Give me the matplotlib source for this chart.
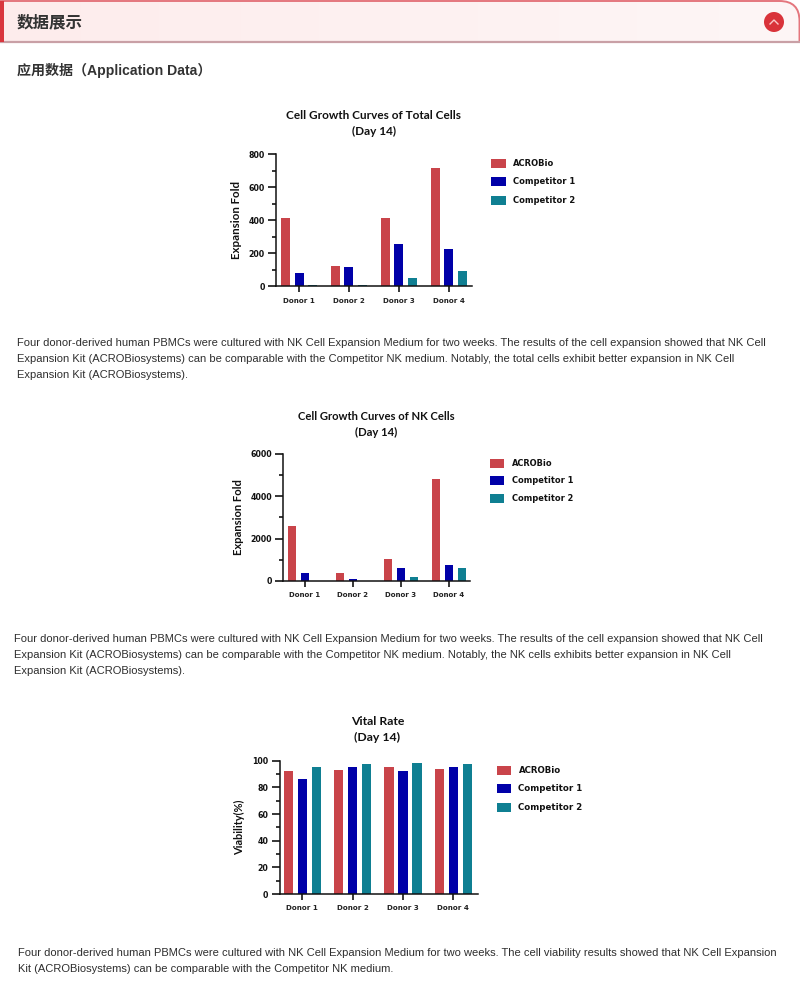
import matplotlib
matplotlib.use("Agg")
import numpy as np
import matplotlib.pyplot as plt
from matplotlib.colors import LinearSegmentedColormap
from matplotlib.patches import FancyBboxPatch, Rectangle, Circle

W, H = 800, 1005

donors = ["Donor 1", "Donor 2", "Donor 3", "Donor 4"]
series_names = ["ACROBio", "Competitor 1", "Competitor 2"]
colors = ["#c9444a", "#0000a8", "#0f7f92"]

total_acro = [412, 127, 412, 715]
total_comp1 = [82, 116, 260, 227]
total_comp2 = [8, 8, 52, 92]

nk_acro = [2600, 400, 1020, 4830]
nk_comp1 = [400, 90, 590, 760]
nk_comp2 = [0, 0, 190, 590]

vital_acro = [92.5, 93, 95, 93.5]
vital_comp1 = [86, 95.5, 92, 95]
vital_comp2 = [95.5, 97.5, 98, 97.5]

para1 = ["Four donor-derived human PBMCs were cultured with NK Cell Expansion Medium for two weeks. The results of the cell expansion showed that NK Cell",
         "Expansion Kit (ACROBiosystems) can be comparable with the Competitor NK medium. Notably, the total cells exhibit better expansion in NK Cell",
         "Expansion Kit (ACROBiosystems)."]
para2 = ["Four donor-derived human PBMCs were cultured with NK Cell Expansion Medium for two weeks. The results of the cell expansion showed that NK Cell",
         "Expansion Kit (ACROBiosystems) can be comparable with the Competitor NK medium. Notably, the NK cells exhibits better expansion in NK Cell",
         "Expansion Kit (ACROBiosystems)."]
para3 = ["Four donor-derived human PBMCs were cultured with NK Cell Expansion Medium for two weeks. The cell viability results showed that NK Cell Expansion",
         "Kit (ACROBiosystems) can be comparable with the Competitor NK medium."]

title_font = ["Lato", "DejaVu Sans"]
tick_font = ["DejaVu Sans"]
body_font = ["Liberation Sans", "DejaVu Sans"]
head_font = ["Liberation Sans", "Noto Sans CJK SC"]
cjk_font = ["Noto Sans CJK SC", "DejaVu Sans"]

fig = plt.figure(figsize=(W / 100, H / 100), dpi=100, facecolor="white")

# page layer in pixel coordinates
page = fig.add_axes([0, 0, 1, 1])
page.set_xlim(0, W)
page.set_ylim(H, 0)
page.axis("off")


def px(size):
    return size * 0.72


def bar_chart(x0, x1, y_top, y_bot, first_c, step, bar_w, offset, ymax, major, minor,
              values, title_x, title_y, title_size, ylabel, ylabel_x, ylabel_size,
              legend_x, legend_y, legend_step, legend_size, tick_size):
    ax = fig.add_axes([x0 / W, 1 - y_bot / H, (x1 - x0) / W, (y_bot - y_top) / H])
    ax.patch.set_alpha(0)
    ax.set_xlim((x0 - first_c) / step, (x1 - first_c) / step)
    ax.set_ylim(0, ymax)
    pos = np.arange(len(donors))
    for i, vals in enumerate(values):
        ax.bar(pos + (i - 1) * offset / step, vals, bar_w / step, color=colors[i], zorder=2)
    for s in ["top", "right"]:
        ax.spines[s].set_visible(False)
    for s in ["left", "bottom"]:
        ax.spines[s].set_linewidth(1.1)
        ax.spines[s].set_color("#111111")
    ax.set_xticks(pos)
    ax.set_xticklabels(donors, fontsize=px(tick_size), fontweight="bold", family=tick_font, color="#222222")
    ax.set_yticks(np.arange(0, ymax + 1, major))
    ax.set_yticks(np.arange(0, ymax + 1, minor), minor=True)
    ax.tick_params(axis="x", length=4, width=1.1, pad=4)
    ax.tick_params(axis="y", which="major", length=6, width=1.1, pad=2, labelsize=px(7.9))
    ax.tick_params(axis="y", which="minor", length=3, width=1.1)
    for t in ax.get_yticklabels():
        t.set_fontweight("bold")
        t.set_family(tick_font)
        t.set_color("#111111")
    page.text(ylabel_x, (y_top + y_bot) / 2, ylabel, rotation=90, ha="center", va="center",
              fontsize=px(ylabel_size), fontweight="bold", family=title_font, color="#111111")
    for i, line in enumerate(title_y[0]):
        page.text(title_x, title_y[1] + i * 16, line, ha="center", va="center",
                  fontsize=px(title_size), fontweight="bold", family=title_font, color="#111111")
    for i, name in enumerate(series_names):
        y = legend_y + i * legend_step
        page.add_patch(Rectangle((legend_x, y - 4.5), 14.5, 9, facecolor=colors[i], edgecolor="none"))
        page.text(legend_x + 22, y, name, ha="left", va="center", fontsize=px(legend_size),
                  fontweight="bold", family=tick_font, color="#111111")


def paragraph(lines, x, y):
    for i, line in enumerate(lines):
        page.text(x, y + i * 16.2, line, ha="left", va="center", fontsize=px(11.14),
                  family=body_font, color="#2e2e2e")


# header band, pink fading to the right
band = FancyBboxPatch((-30, 1), W + 29.5, 70, boxstyle="round,pad=0,rounding_size=20",
                      facecolor="none", edgecolor="#e4767d", linewidth=1.4)
page.add_patch(band)
fade = LinearSegmentedColormap.from_list("fade", ["#fdecec", "#fdf6f6"])
grad = page.imshow(np.linspace(0, 1, 256).reshape(1, -1), cmap=fade, extent=(0, W, 42, 1),
                   aspect="auto", zorder=0.5)
grad.set_clip_path(band)
page.set_xlim(0, W)
page.set_ylim(H, 0)
page.add_patch(Rectangle((0, 43), W, 30, facecolor="white", edgecolor="none", zorder=1.5))
page.plot([0, W], [42, 42], color="#c9a0a6", lw=1.6, zorder=1.6)
page.add_patch(Rectangle((0, 1), 4, 41, facecolor="#d9363e", edgecolor="none", zorder=1.7))
page.add_patch(Circle((774, 22), 10, facecolor="#d9333a", edgecolor="none", zorder=2))
page.plot([770, 774, 778], [24, 20, 24], color="#f9c9c9", lw=1.0, zorder=3)
page.text(17, 22, "数据展示", ha="left", va="center", fontsize=px(16.5), fontweight="bold",
          family=cjk_font, color="#333333")
page.text(17, 70, "应用数据（Application Data）", ha="left", va="center", fontsize=px(14),
          fontweight="bold", family=head_font, color="#333333", zorder=4)

bar_chart(276, 472, 154.3, 286.5, 299, 49.9, 9, 13.7, 800, 200, 100,
          [total_acro, total_comp1, total_comp2], 373.5, (["Cell Growth Curves of Total Cells", "(Day 14)"], 115.5), 11.7,
          "Expansion Fold", 236, 11.5, 491, 163.5, 18.3, 8.4, 7.2)
paragraph(para1, 17, 342.5)

bar_chart(283, 470, 453.7, 581, 305, 47.9, 8.4, 13, 6000, 2000, 1000,
          [nk_acro, nk_comp1, nk_comp2], 376, (["Cell Growth Curves of NK Cells", "(Day 14)"], 416.5), 11.2,
          "Expansion Fold", 239, 11.2, 489.5, 463, 17.7, 8.3, 7.0)
paragraph(para2, 14, 638.5)

bar_chart(279.5, 477.5, 760.7, 894, 302.3, 50.3, 9.3, 14, 100, 20, 10,
          [vital_acro, vital_comp1, vital_comp2], 377.5, (["Vital Rate", "(Day 14)"], 721), 12.3,
          "Viability(%)", 240, 11, 496.5, 770, 18.5, 8.6, 7.2)
paragraph(para3, 18, 953)

fig.savefig("out.png", dpi=100, facecolor="white")
